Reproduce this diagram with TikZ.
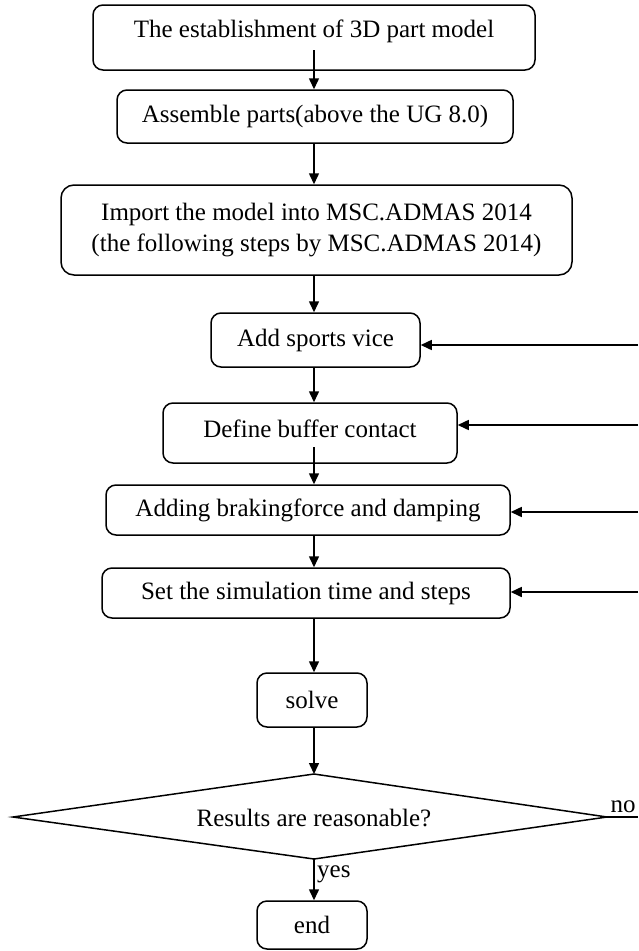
\documentclass[tikz,border=0pt]{standalone}
\usepackage{fontspec}
\setmainfont{Liberation Serif}
\usetikzlibrary{arrows.meta,calc}
\tikzset{
  box/.style={draw, line width=1.5pt, rounded corners=10pt, align=center, inner sep=0pt, font=\fontsize{25}{31}\selectfont},
  arr/.style={line width=1.5pt, -{Triangle[length=11pt,width=10pt]}},
  lbl/.style={font=\fontsize{25}{30}\selectfont, inner sep=0pt},
}
\begin{document}
\begin{tikzpicture}[x=1pt,y=-1pt]
\useasboundingbox (0,0) rectangle (638,951);
\coordinate (spine) at (314,0);
\node[box, minimum width=442pt, minimum height=65pt] (b1) at (314,37.5) {};
\node[lbl] (b1t) at (314,31) {The establishment of 3D part model};
\node[box, minimum width=396pt, minimum height=53pt] (b2) at (315,116.5) {Assemble parts(above the UG 8.0)};
\node[box, minimum width=511pt, minimum height=90pt, rounded corners=13pt] (b3) at (316.5,230) {Import the model into MSC.ADMAS 2014\\(the following steps by MSC.ADMAS 2014)};
\node[box, minimum width=209pt, minimum height=54pt] (b4) at (315.5,340) {Add sports vice};
\node[box, minimum width=294pt, minimum height=60pt] (b5) at (310,433) {};
\node[lbl] (b5t) at (310,429) {Define buffer contact};
\node[box, minimum width=404pt, minimum height=50pt] (b6) at (308,510) {Adding brakingforce and damping};
\node[box, minimum width=408pt, minimum height=50pt] (b7) at (306,593) {Set the simulation time and steps};
\node[box, minimum width=110pt, minimum height=54pt] (solve) at (312,700) {solve};
\node[box, minimum width=110pt, minimum height=48pt] (end) at (312,925) {end};
% decision diamond
\coordinate (dtop) at (314,774);
\coordinate (dleft) at (13,817);
\coordinate (dright) at (607,817);
\coordinate (dbot) at (314,859);
\draw[line width=1.5pt, line join=miter] (dtop) -- (dright) -- (dbot) -- (dleft) -- cycle;
\node[lbl] (dtext) at (314,818) {Results are reasonable?};
% vertical flow
\coordinate (s1) at (314,50);
\coordinate (s5) at (314,447);
\draw[arr] (s1) -- (b2.north -| spine);
\draw[arr] (b2.south -| spine) -- (b3.north -| spine);
\draw[arr] (b3.south -| spine) -- (b4.north -| spine);
\draw[arr] (b4.south -| spine) -- (b5.north -| spine);
\draw[arr] (s5) -- (b6.north -| spine);
\draw[arr] (b6.south -| spine) -- (b7.north -| spine);
\draw[arr] (b7.south -| spine) -- (solve.north -| spine);
\draw[arr] (solve.south -| spine) -- (dtop);
\draw[arr] (dbot) -- (end.north -| dbot);
\node[lbl, anchor=west] (yes) at (317,874) {yes};
% no branch
\coordinate (nend) at (638,817);
\draw[line width=1.5pt] (dright) -- (nend);
\node[lbl, anchor=south] (no) at (623,813) {no};
% feedback arrows from the right
\coordinate (r4) at (638,345);
\coordinate (r5) at (638,425);
\coordinate (r6) at (638,512);
\coordinate (r7) at (638,592);
\draw[arr] (r4) -- (r4 -| b4.east);
\draw[arr] (r5) -- (r5 -| b5.east);
\draw[arr] (r6) -- (r6 -| b6.east);
\draw[arr] (r7) -- (r7 -| b7.east);
\end{tikzpicture}
\end{document}
